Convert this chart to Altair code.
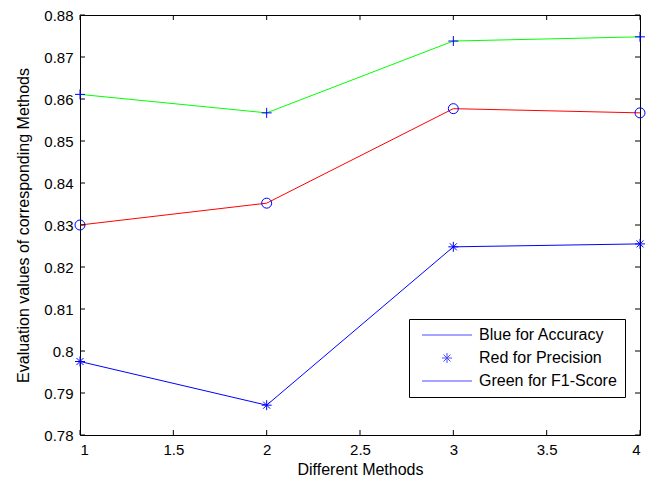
import altair as alt
import pandas as pd

methods = [1, 2, 3, 4]
accuracy = [0.7975, 0.7871, 0.8248, 0.8255]
precision = [0.8300, 0.8352, 0.8577, 0.8567]
f1_score = [0.8611, 0.8567, 0.8738, 0.8748]

series_names = ["Accuracy", "Precision", "F1-Score"]
line_colors = ["#0000ff", "#ff0000", "#00ff00"]
legend_labels = ["Blue for Accuracy", "Red for Precision", "Green for F1-Score"]

x_ticks = [1, 1.5, 2, 2.5, 3, 3.5, 4]
y_ticks = [0.78, 0.79, 0.80, 0.81, 0.82, 0.83, 0.84, 0.85, 0.86, 0.87, 0.88]

STAR = "M-1,0H1M0,-1V1M-0.7,-0.7L0.7,0.7M-0.7,0.7L0.7,-0.7"
PLUS = "M-1,0H1M0,-1V1"
LINE = "M-5,0H5"

rows = []
for name, vals in zip(series_names, [accuracy, precision, f1_score]):
    for m, v in zip(methods, vals):
        rows.append({"method": m, "value": v, "series": name})
df = pd.DataFrame(rows)

W, H = 560, 420
FONT = "Liberation Sans"

xscale = alt.Scale(domain=[1, 4], nice=False, zero=False)
yscale = alt.Scale(domain=[0.78, 0.88], nice=False, zero=False)

x_enc = alt.X("method:Q", scale=xscale,
              axis=alt.Axis(values=x_ticks, format="~g", title="Different Methods",
                            grid=False, ticks=False, domain=False,
                            labelFontSize=15, labelPadding=7, labelColor="black",
                            titleFontSize=16, titleFontWeight="normal", titleColor="black",
                            titlePadding=4, labelFont=FONT, titleFont=FONT))
y_enc = alt.Y("value:Q", scale=yscale,
              axis=alt.Axis(values=y_ticks, format="~g",
                            title="Evaluation values of corresponding Methods",
                            grid=False, ticks=False, domain=False,
                            labelFontSize=15, labelPadding=7, labelColor="black",
                            titleFontSize=16, titleFontWeight="normal", titleColor="black",
                            titlePadding=12, labelFont=FONT, titleFont=FONT))

lines = alt.Chart(df).mark_line(strokeWidth=1).encode(
    x=x_enc, y=y_enc,
    color=alt.Color("series:N", scale=alt.Scale(domain=series_names, range=line_colors), legend=None),
    detail="series:N",
)

points = alt.Chart(df).mark_point(filled=False, color="#0000ff", strokeWidth=1, size=100, opacity=1).encode(
    x="method:Q", y="value:Q",
    shape=alt.Shape("series:N", scale=alt.Scale(domain=series_names, range=[STAR, "circle", PLUS]), legend=None),
)

ytick_df = pd.DataFrame({"t": y_ticks})
xtick_df = pd.DataFrame({"t": x_ticks})

yt_left = alt.Chart(ytick_df).mark_rule(color="black", strokeWidth=1).encode(
    y="t:Q", x=alt.value(0), x2=alt.value(5))
yt_right = alt.Chart(ytick_df).mark_rule(color="black", strokeWidth=1).encode(
    y="t:Q", x=alt.value(W - 5), x2=alt.value(W))
xt_bottom = alt.Chart(xtick_df).mark_rule(color="black", strokeWidth=1).encode(
    x="t:Q", y=alt.value(H - 5), y2=alt.value(H))
xt_top = alt.Chart(xtick_df).mark_rule(color="black", strokeWidth=1).encode(
    x="t:Q", y=alt.value(0), y2=alt.value(5))

leg_df = pd.DataFrame({"label": legend_labels, "method": [1, 1, 1], "value": [0.5, 0.5, 0.5]})
legend_layer = alt.Chart(leg_df).mark_point(filled=False, color="#0000ff", size=100, clip=True, strokeWidth=1).encode(
    x="method:Q", y="value:Q",
    shape=alt.Shape("label:N",
                    scale=alt.Scale(domain=legend_labels, range=[LINE, STAR, LINE]),
                    sort=legend_labels,
                    legend=alt.Legend(orient="none", legendX=329, legendY=304, title=None,
                                      strokeColor="black", fillColor="white", padding=8,
                                      labelFont=FONT, labelFontSize=16, labelColor="black",
                                      symbolSize=100, symbolOffset=22, labelOffset=24,
                                      symbolStrokeColor="#0000ff", symbolStrokeWidth=1,
                                      symbolFillColor="transparent",
                                      rowPadding=7, labelLimit=300)),
)

chart = alt.layer(lines, points, yt_left, yt_right, xt_bottom, xt_top, legend_layer).resolve_scale(
    shape="independent", color="independent"
).properties(
    width=W, height=H,
    autosize=alt.AutoSizeParams(type="none"),
    padding={"left": 80, "top": 15, "right": 18, "bottom": 48},
    background="white",
).configure_view(stroke="black", strokeWidth=1)

chart.save("out.html", embed_options={"renderer": "svg", "actions": False})
